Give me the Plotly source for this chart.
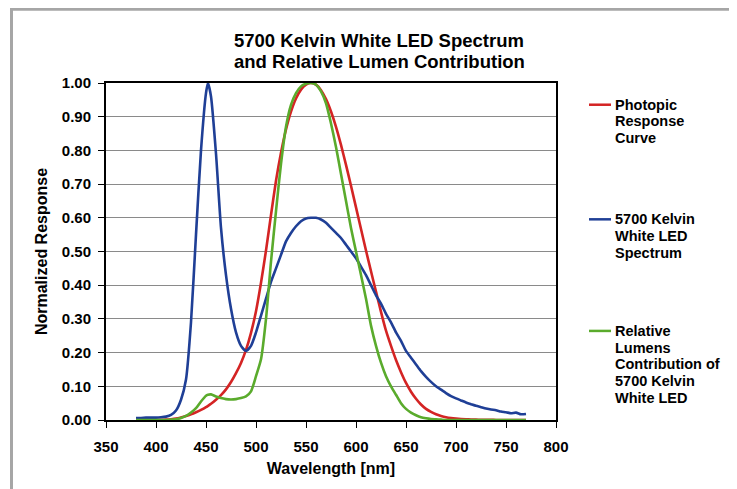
import plotly.graph_objects as go

# wavelength grid (nm)
wavelength = [380, 385, 390, 395, 400, 405, 410, 415, 420, 425, 430, 435, 440, 445, 450,
              452, 455, 460, 465, 470, 475, 480, 485, 490, 495, 500, 505, 510, 515, 520,
              525, 530, 535, 540, 545, 550, 555, 560, 565, 570, 575, 580, 585, 590, 595,
              600, 605, 610, 615, 620, 625, 630, 635, 640, 645, 650, 655, 660, 665, 670,
              675, 680, 685, 690, 695, 700, 705, 710, 715, 720, 725, 730, 735, 740, 745,
              750, 755, 760, 765, 770]

photopic = [0.00004, 0.00006, 0.00012, 0.0002, 0.0004, 0.0006, 0.0012, 0.0022, 0.004, 0.0073,
            0.0116, 0.0168, 0.023, 0.0298, 0.038, 0.042, 0.048, 0.06, 0.0739, 0.091,
            0.1126, 0.139, 0.1693, 0.208, 0.2586, 0.323, 0.4073, 0.503, 0.6082, 0.71,
            0.7932, 0.862, 0.9149, 0.954, 0.9803, 0.995, 1.0, 0.995, 0.9786, 0.952,
            0.9154, 0.87, 0.8163, 0.757, 0.6949, 0.631, 0.5668, 0.503, 0.4412, 0.381,
            0.321, 0.265, 0.22, 0.178, 0.142, 0.11, 0.084, 0.063, 0.046, 0.033,
            0.024, 0.017, 0.012, 0.0082, 0.0057, 0.0041, 0.0029, 0.0021, 0.0015, 0.001,
            0.0007, 0.0005, 0.0004, 0.0002, 0.0002, 0.0001, 0.0001, 0.0001, 0.0, 0.0]

led_spectrum = [0.006, 0.006, 0.007, 0.007, 0.007, 0.008, 0.010, 0.015, 0.028, 0.06,
                0.12, 0.29, 0.55, 0.80, 0.97, 1.0, 0.96, 0.79, 0.57, 0.43,
                0.33, 0.26, 0.22, 0.205, 0.22, 0.26, 0.31, 0.36, 0.41, 0.45,
                0.49, 0.53, 0.555, 0.575, 0.59, 0.598, 0.600, 0.600, 0.595, 0.585,
                0.57, 0.555, 0.54, 0.52, 0.50, 0.48, 0.455, 0.43, 0.40, 0.37,
                0.345, 0.315, 0.29, 0.26, 0.235, 0.205, 0.185, 0.165, 0.145, 0.128,
                0.113, 0.100, 0.090, 0.080, 0.071, 0.064, 0.058, 0.052, 0.047, 0.042,
                0.038, 0.034, 0.031, 0.029, 0.025, 0.023, 0.020, 0.022, 0.017, 0.018]

lumen_contrib = [0.0, 0.0, 0.0, 0.0, 0.0, 0.0, 0.0, 0.001, 0.002, 0.006,
                 0.012, 0.022, 0.035, 0.055, 0.072, 0.075, 0.076, 0.070, 0.065, 0.062,
                 0.061, 0.062, 0.065, 0.070, 0.085, 0.13, 0.18, 0.30, 0.47, 0.62,
                 0.76, 0.87, 0.935, 0.97, 0.99, 0.998, 1.0, 0.995, 0.975, 0.94,
                 0.88, 0.81, 0.73, 0.65, 0.57, 0.50, 0.43, 0.36, 0.28, 0.22,
                 0.17, 0.13, 0.10, 0.075, 0.05, 0.033, 0.022, 0.014, 0.008, 0.005,
                 0.003, 0.002, 0.001, 0.0, 0.0, 0.0, 0.0, 0.0, 0.0, 0.0,
                 0.0, 0.0, 0.0, 0.0, 0.0, 0.0, 0.0, 0.0, 0.0, 0.0]

RED = '#d42424'
BLUE = '#1f3f96'
GREEN = '#5aab2c'
FONT = 'Liberation Sans, Arial, sans-serif'

series = [
    (photopic, RED, ['Photopic', 'Response', 'Curve']),
    (led_spectrum, BLUE, ['5700 Kelvin', 'White LED', 'Spectrum']),
    (lumen_contrib, GREEN, ['Relative', 'Lumens', 'Contribution of', '5700 Kelvin', 'White LED']),
]

fig = go.Figure()
for values, color, name in series:
    fig.add_trace(go.Scatter(
        x=wavelength, y=values, mode='lines', name=' '.join(name),
        line=dict(color=color, width=2.6, shape='spline', smoothing=0.6),
        showlegend=False))

# page pixel -> paper coords (plot area sits at x 106..556, y 83.3..420 on the page)
L, T, W, H = 106, 83.3, 450, 336.7


def px_x(x):
    return (x - L) / W


def px_y(y):
    return (T + H - y) / H


# hand-made legend on the right
legend_y = [105, 219.5, 331]
shapes = []
annotations = []
for (values, color, name), y0 in zip(series, legend_y):
    shapes.append(dict(type='line', xref='paper', yref='paper',
                       x0=px_x(589), x1=px_x(611), y0=px_y(y0), y1=px_y(y0),
                       line=dict(color=color, width=2.5)))
    for i, txt in enumerate(name):
        annotations.append(dict(xref='paper', yref='paper', x=px_x(613), y=px_y(y0 + i * 16.7),
                                text=txt, showarrow=False, xanchor='left', yanchor='middle',
                                font=dict(family=FONT, size=14.5, color='black', weight='bold')))

# outer gray frame
shapes.append(dict(type='rect', xref='paper', yref='paper', layer='below',
                   x0=px_x(11.5), x1=px_x(732), y0=px_y(9.5), y1=px_y(520),
                   line=dict(color='#a6a6a6', width=3)))

# title lines
for txt, y in [('5700 Kelvin White LED Spectrum', 40.5), ('and Relative Lumen Contribution', 61.5)]:
    annotations.append(dict(xref='paper', yref='paper', x=px_x(379), y=px_y(y), text=txt,
                            showarrow=False, xanchor='center', yanchor='middle',
                            font=dict(family=FONT, size=18.5, color='black', weight='bold')))

# the page body adds 8px, so the figure is 8px smaller than the window
fig.update_layout(
    width=729, height=481,
    margin=dict(l=98, r=181, t=75, b=69, autoexpand=False),
    paper_bgcolor='white', plot_bgcolor='white',
    font=dict(family=FONT, color='black'),
    shapes=shapes, annotations=annotations,
)
fig.update_xaxes(
    range=[350, 800], dtick=50, tick0=350,
    showgrid=False, zeroline=False,
    showline=True, mirror=True, linecolor='black', linewidth=2,
    ticks='outside', ticklen=6, tickcolor='black', tickwidth=1, ticklabelstandoff=6,
    tickfont=dict(family=FONT, size=15, color='black', weight='bold'),
    title=dict(text='Wavelength [nm]', standoff=9,
               font=dict(family=FONT, size=16, color='black', weight='bold')))
fig.update_yaxes(
    range=[0, 1], dtick=0.1, tickformat='.2f',
    showgrid=True, gridcolor='#8a8a8a', gridwidth=1, zeroline=False,
    showline=True, mirror=True, linecolor='black', linewidth=2,
    ticks='outside', ticklen=6, tickcolor='black', tickwidth=1, ticklabelstandoff=4,
    tickfont=dict(family=FONT, size=15, color='black', weight='bold'),
    title=dict(text='Normalized Response', standoff=10,
               font=dict(family=FONT, size=16, color='black', weight='bold')))

fig.write_html("out.html")
